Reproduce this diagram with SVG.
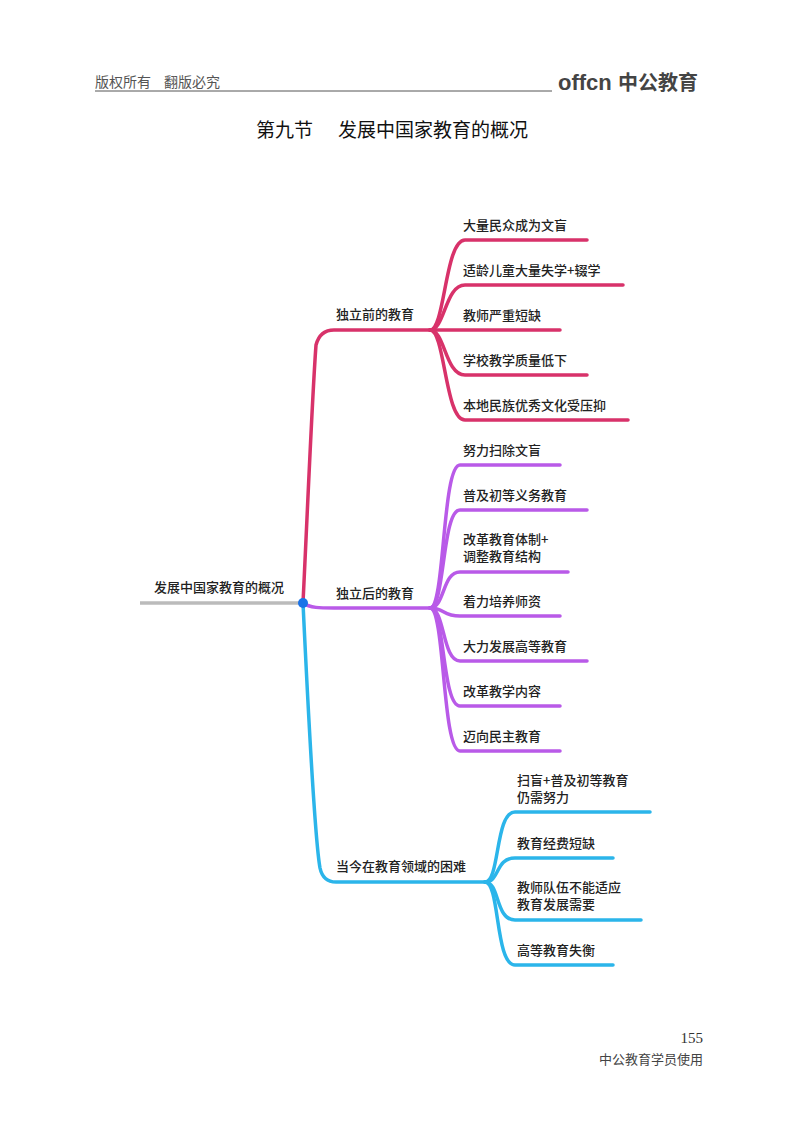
<svg xmlns="http://www.w3.org/2000/svg" width="800" height="1124" viewBox="0 0 800 1124">
<style>
.t{font-family:"Noto Sans CJK SC","Noto Sans",sans-serif;font-size:13px;font-weight:500;fill:#222}
.r{fill:none;stroke:#d8326a;stroke-width:3.5;stroke-linecap:round}
.p{fill:none;stroke:#b95ae8;stroke-width:3.5;stroke-linecap:round}
.b{fill:none;stroke:#2bb5ea;stroke-width:3.5;stroke-linecap:round}
</style>
<rect width="800" height="1124" fill="#fff"/>
<g id="header">
<text x="95" y="87" font-family="Noto Sans CJK SC,sans-serif" font-size="14" fill="#555">版权所有</text>
<text x="164" y="87" font-family="Noto Sans CJK SC,sans-serif" font-size="14" fill="#555">翻版必究</text>
<line x1="95" y1="91" x2="552" y2="91" stroke="#555" stroke-width="1"/>
<text x="558" y="90" font-family="Liberation Sans,sans-serif" font-size="22" font-weight="bold" fill="#444">offcn</text>
<text x="618" y="90" font-family="Noto Sans CJK SC,sans-serif" font-size="20" font-weight="bold" fill="#444">中公教育</text>
<text x="256" y="137" font-family="Noto Sans CJK SC,sans-serif" font-size="19" fill="#111">第九节</text>
<text x="338" y="137" font-family="Noto Sans CJK SC,sans-serif" font-size="19" fill="#111">发展中国家教育的概况</text>
</g>
<g id="connectors">
<line x1="140" y1="603" x2="303" y2="603" stroke="#bbb" stroke-width="3.5"/>
<path class="r" d="M303 603 C308 500 312 400 316 345 Q320 330 334 330 H430"/>
<path class="r" d="M430 330 C445 330 445 240 465 240 H587"/>
<path class="r" d="M430 330 C445 330 445 285 465 285 H623"/>
<path class="r" d="M430 330 H560"/>
<path class="r" d="M430 330 C445 330 445 375 465 375 H587"/>
<path class="r" d="M430 330 C445 330 445 420 465 420 H628"/>
<path class="p" d="M303 603 C310 608 320 608 334 608 H430"/>
<path class="p" d="M430 608 C445 608 442 465 460 465 H560"/>
<path class="p" d="M430 608 C445 608 442 510 460 510 H587"/>
<path class="p" d="M430 608 C445 608 442 572 460 572 H568"/>
<path class="p" d="M430 608 C445 608 442 616 460 616 H560"/>
<path class="p" d="M430 608 C445 608 442 661 460 661 H587"/>
<path class="p" d="M430 608 C445 608 442 706 460 706 H560"/>
<path class="p" d="M430 608 C445 608 442 751 460 751 H560"/>
<path class="b" d="M303 603 C310 750 315 840 320 868 Q323 882 336 882 H485"/>
<path class="b" d="M485 882 C500 882 495 812 515 812 H650"/>
<path class="b" d="M485 882 C500 882 495 858 515 858 H613"/>
<path class="b" d="M485 882 C500 882 495 920 515 920 H641"/>
<path class="b" d="M485 882 C500 882 495 965 515 965 H613"/>
<circle cx="303" cy="603" r="5" fill="#1a73e8"/>
</g>
<g id="root"><text class="t" x="154" y="592">发展中国家教育的概况</text></g>
<g id="n1"><text class="t" x="336" y="319">独立前的教育</text></g>
<g id="n1a"><text class="t" x="463" y="230">大量民众成为文盲</text></g>
<g id="n1b"><text class="t" x="463" y="275">适龄儿童大量失学+辍学</text></g>
<g id="n1c"><text class="t" x="463" y="320">教师严重短缺</text></g>
<g id="n1d"><text class="t" x="463" y="365">学校教学质量低下</text></g>
<g id="n1e"><text class="t" x="463" y="410">本地民族优秀文化受压抑</text></g>
<g id="n2"><text class="t" x="336" y="598">独立后的教育</text></g>
<g id="n2a"><text class="t" x="463" y="455">努力扫除文盲</text></g>
<g id="n2b"><text class="t" x="463" y="500">普及初等义务教育</text></g>
<g id="n2c"><text class="t" x="463" y="544">改革教育体制+</text><text class="t" x="463" y="561">调整教育结构</text></g>
<g id="n2d"><text class="t" x="463" y="606">着力培养师资</text></g>
<g id="n2e"><text class="t" x="463" y="651">大力发展高等教育</text></g>
<g id="n2f"><text class="t" x="463" y="696">改革教学内容</text></g>
<g id="n2g"><text class="t" x="463" y="741">迈向民主教育</text></g>
<g id="n3"><text class="t" x="336" y="871">当今在教育领域的困难</text></g>
<g id="n3a"><text class="t" x="517" y="785">扫盲+普及初等教育</text><text class="t" x="517" y="802">仍需努力</text></g>
<g id="n3b"><text class="t" x="517" y="848">教育经费短缺</text></g>
<g id="n3c"><text class="t" x="517" y="892">教师队伍不能适应</text><text class="t" x="517" y="909">教育发展需要</text></g>
<g id="n3d"><text class="t" x="517" y="955">高等教育失衡</text></g>
<g id="footer">
<text x="703" y="1043" text-anchor="end" font-family="Liberation Serif,serif" font-size="15" fill="#333">155</text>
<text x="703" y="1064" text-anchor="end" font-family="Noto Sans CJK SC,sans-serif" font-size="13" fill="#444">中公教育学员使用</text>
</g>
</svg>
